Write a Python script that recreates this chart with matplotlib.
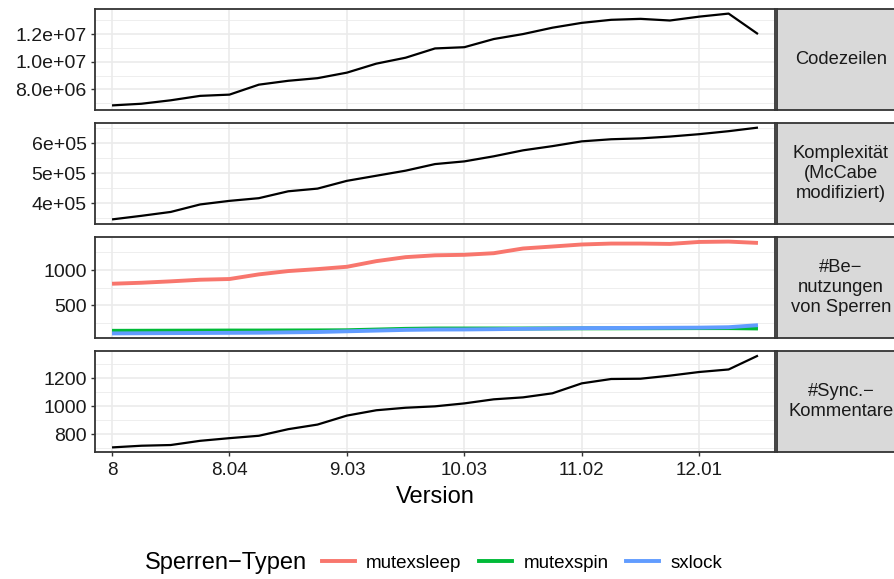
import matplotlib
matplotlib.use("Agg")
import matplotlib.pyplot as plt
from matplotlib.lines import Line2D

plt.rcParams['font.family'] = ['Liberation Sans', 'DejaVu Sans']

# versions on the x axis (categorical)
versions = ["8", "8.01", "8.02", "8.03", "8.04", "9", "9.01", "9.02", "9.03",
            "10", "10.01", "10.02", "10.03", "10.04", "11", "11.01", "11.02",
            "11.03", "11.04", "12", "12.01", "12.02", "12.03"]
shown_versions = ["8", "8.04", "9.03", "10.03", "11.02", "12.01"]

codezeilen = [6.84e6, 6.96e6, 7.21e6, 7.53e6, 7.62e6, 8.34e6, 8.62e6, 8.81e6,
              9.21e6, 9.86e6, 10.29e6, 10.96e6, 11.05e6, 11.64e6, 12.0e6,
              12.46e6, 12.81e6, 13.03e6, 13.1e6, 12.98e6, 13.26e6, 13.48e6, 12.0e6]
komplexitaet = [3.46e5, 3.58e5, 3.71e5, 3.96e5, 4.08e5, 4.17e5, 4.40e5, 4.49e5,
                4.75e5, 4.92e5, 5.09e5, 5.31e5, 5.40e5, 5.57e5, 5.77e5, 5.91e5,
                6.07e5, 6.14e5, 6.17e5, 6.23e5, 6.31e5, 6.41e5, 6.53e5]
mutexsleep = [806, 820, 840, 863, 873, 939, 986, 1014, 1047, 1127, 1184, 1210,
              1217, 1240, 1307, 1335, 1364, 1377, 1377, 1372, 1400, 1405, 1386]
mutexspin = [137, 138, 139, 140, 141, 141, 142, 143, 145, 155, 165, 170, 170,
             170, 170, 171, 172, 172, 173, 174, 175, 175, 170]
sxlock = [100, 102, 104, 106, 108, 110, 115, 120, 130, 140, 150, 155, 156, 160,
          165, 170, 175, 177, 178, 180, 182, 188, 217]
sync_kommentare = [705, 717, 722, 752, 771, 788, 835, 868, 932, 970, 988, 998,
                   1019, 1048, 1062, 1091, 1162, 1193, 1195, 1217, 1243, 1261, 1360]

lock_types = ["mutexsleep", "mutexspin", "sxlock"]
lock_colors = ["#F8766D", "#00BA38", "#619CFF"]

strip_labels = ["Codezeilen", "Komplexität\n(McCabe\nmodifiziert)",
                "#Be\u2212\nnutzungen\nvon Sperren", "#Sync.\u2212\nKommentare"]
ytick_vals = [[8.0e6, 1.0e7, 1.2e7], [4e5, 5e5, 6e5], [500, 1000], [800, 1000, 1200]]
ytick_labels = [["8.0e+06", "1.0e+07", "1.2e+07"], ["4e+05", "5e+05", "6e+05"],
                ["500", "1000"], ["800", "1000", "1200"]]
yminor_vals = [[7e6, 9e6, 1.1e7, 1.3e7], [3.5e5, 4.5e5, 5.5e5, 6.5e5],
               [250, 750, 1250], [700, 900, 1100, 1300]]

W, H = 895, 579
fig = plt.figure(figsize=(W / 100, H / 100), dpi=100)

tops = [9, 123, 237, 351]
ph = 101
x = list(range(len(versions)))
dark = "#333333"

def expand(vals):
    lo, hi = min(vals), max(vals)
    d = (hi - lo) * 0.05
    return lo - d, hi + d

series = [[(codezeilen, "black", 1.6)], [(komplexitaet, "black", 1.6)],
          [(mutexsleep, lock_colors[0], 2.8), (mutexspin, lock_colors[1], 2.8),
           (sxlock, lock_colors[2], 2.8)],
          [(sync_kommentare, "black", 1.6)]]

for k in range(4):
    ax = fig.add_axes([95 / W, 1 - (tops[k] + ph) / H, 680 / W, ph / H])
    allv = []
    for vals, col, lw in series[k]:
        ax.plot(x, vals, color=col, lw=lw, zorder=3, solid_capstyle='butt')
        allv += vals
    ax.set_ylim(*expand(allv))
    ax.set_xlim(-0.58, len(versions) - 1 + 0.58)
    ax.set_yticks(ytick_vals[k])
    ax.set_yticklabels(ytick_labels[k])
    ax.set_yticks(yminor_vals[k], minor=True)
    xt = [versions.index(v) for v in shown_versions]
    ax.set_xticks(xt)
    ax.grid(True, which='major', color="#EBEBEB", lw=1.2, zorder=0)
    ax.grid(True, which='minor', axis='y', color="#EBEBEB", lw=0.6, zorder=0)
    ax.set_axisbelow(True)
    ax.tick_params(axis='both', which='major', labelsize=13.5, colors=dark,
                   length=3, width=1, pad=3, labelcolor="#1A1A1A")
    ax.tick_params(axis='y', labelsize=14)
    ax.tick_params(axis='y', which='minor', length=0)
    if k == 3:
        ax.set_xticklabels(shown_versions)
        ax.tick_params(axis='x', pad=4)
        ax.set_xlabel("Version", fontsize=17, labelpad=5)
    else:
        ax.tick_params(axis='x', length=0, labelbottom=False)
    for s in ax.spines.values():
        s.set_color(dark)
        s.set_linewidth(1.3)

    sax = fig.add_axes([777 / W, 1 - (tops[k] + ph) / H, 128 / W, ph / H])
    sax.set_facecolor("#D9D9D9")
    sax.set_xticks([])
    sax.set_yticks([])
    for s in sax.spines.values():
        s.set_color(dark)
        s.set_linewidth(1.3)
    sax.text(0.5, 0.5, strip_labels[k], ha='center', va='center', fontsize=13.2,
             color="#1A1A1A", linespacing=1.2, transform=sax.transAxes)

fig.text(145 / W, 1 - 563 / H, "Sperren\u2212Typen", fontsize=17, va='center',
         ha='left', color="black")
handles = [Line2D([], [], color=c, lw=2.8) for c in lock_colors]
fig.legend(handles, lock_types, loc='center left', bbox_to_anchor=(322 / W, 1 - 563 / H),
           ncol=3, frameon=False, fontsize=13.5, handlelength=1.75, handletextpad=0.6,
           columnspacing=0.95, borderpad=0, borderaxespad=0)

fig.savefig("out.png", dpi=100)
